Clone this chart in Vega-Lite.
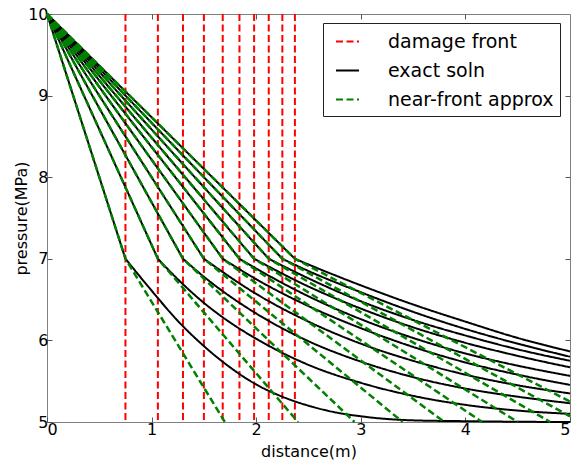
{
  "$schema": "https://vega.github.io/schema/vega-lite/v6.json",
  "width": 523,
  "height": 408,
  "autosize": {"type": "none"},
  "padding": {"left": 47, "top": 14, "right": 11, "bottom": 42},
  "background": "white",
  "config": {
    "font": "DejaVu Sans",
    "view": {"stroke": "#808080", "strokeWidth": 1},
    "axis": {"grid": false, "labelFontSize": 16, "titleFontSize": 16, "titleFontWeight": "normal", "labelColor": "black", "titleColor": "black", "domain": false, "tickColor": "#555", "tickSize": -5, "tickWidth": 1, "labelPadding": 4},
    "legend": {"orient": "none", "legendX": 276, "legendY": 9, "symbolType": "stroke", "symbolSize": 529, "symbolStrokeWidth": 2, "symbolOffset": 6, "labelFontSize": 19, "labelColor": "black", "labelOffset": 28, "padding": 6, "rowPadding": 6, "fillColor": "white", "strokeColor": "#222", "labelLimit": 300}
  },
  "datasets": {
    "fronts": [
      {"k": 1, "x": 0.75, "series": "damage front"},
      {"k": 2, "x": 1.06, "series": "damage front"},
      {"k": 3, "x": 1.30, "series": "damage front"},
      {"k": 4, "x": 1.50, "series": "damage front"},
      {"k": 5, "x": 1.68, "series": "damage front"},
      {"k": 6, "x": 1.84, "series": "damage front"},
      {"k": 7, "x": 1.98, "series": "damage front"},
      {"k": 8, "x": 2.12, "series": "damage front"},
      {"k": 9, "x": 2.25, "series": "damage front"},
      {"k": 10, "x": 2.37, "series": "damage front"}
    ],
    "exact": [
      {"k": 1, "seg": "a", "x": 0, "p": 10, "series": "exact soln"},
      {"k": 1, "seg": "a", "x": 0.75, "p": 7, "series": "exact soln"},
      {"k": 1, "seg": "b", "x": 0.75, "p": 7, "series": "exact soln"},
      {"k": 1, "seg": "b", "x": 1.0, "p": 6.61, "series": "exact soln"},
      {"k": 1, "seg": "b", "x": 1.25, "p": 6.24, "series": "exact soln"},
      {"k": 1, "seg": "b", "x": 1.5, "p": 5.93, "series": "exact soln"},
      {"k": 1, "seg": "b", "x": 1.75, "p": 5.67, "series": "exact soln"},
      {"k": 1, "seg": "b", "x": 2.0, "p": 5.46, "series": "exact soln"},
      {"k": 1, "seg": "b", "x": 2.25, "p": 5.31, "series": "exact soln"},
      {"k": 1, "seg": "b", "x": 2.5, "p": 5.2, "series": "exact soln"},
      {"k": 1, "seg": "b", "x": 2.75, "p": 5.12, "series": "exact soln"},
      {"k": 1, "seg": "b", "x": 3.0, "p": 5.07, "series": "exact soln"},
      {"k": 1, "seg": "b", "x": 3.5, "p": 5.02, "series": "exact soln"},
      {"k": 1, "seg": "b", "x": 4.0, "p": 5.01, "series": "exact soln"},
      {"k": 1, "seg": "b", "x": 4.5, "p": 5.003, "series": "exact soln"},
      {"k": 1, "seg": "b", "x": 5.0, "p": 5.0, "series": "exact soln"},
      {"k": 2, "seg": "a", "x": 0, "p": 10, "series": "exact soln"},
      {"k": 2, "seg": "a", "x": 1.06, "p": 7, "series": "exact soln"},
      {"k": 2, "seg": "b", "x": 1.06, "p": 7, "series": "exact soln"},
      {"k": 2, "seg": "b", "x": 1.25, "p": 6.75, "series": "exact soln"},
      {"k": 2, "seg": "b", "x": 1.5, "p": 6.46, "series": "exact soln"},
      {"k": 2, "seg": "b", "x": 1.75, "p": 6.22, "series": "exact soln"},
      {"k": 2, "seg": "b", "x": 2.0, "p": 6.02, "series": "exact soln"},
      {"k": 2, "seg": "b", "x": 2.5, "p": 5.7, "series": "exact soln"},
      {"k": 2, "seg": "b", "x": 3.0, "p": 5.48, "series": "exact soln"},
      {"k": 2, "seg": "b", "x": 3.5, "p": 5.32, "series": "exact soln"},
      {"k": 2, "seg": "b", "x": 4.0, "p": 5.21, "series": "exact soln"},
      {"k": 2, "seg": "b", "x": 4.5, "p": 5.14, "series": "exact soln"},
      {"k": 2, "seg": "b", "x": 5.0, "p": 5.1, "series": "exact soln"},
      {"k": 3, "seg": "a", "x": 0, "p": 10, "series": "exact soln"},
      {"k": 3, "seg": "a", "x": 1.3, "p": 7, "series": "exact soln"},
      {"k": 3, "seg": "b", "x": 1.3, "p": 7, "series": "exact soln"},
      {"k": 3, "seg": "b", "x": 1.5, "p": 6.78, "series": "exact soln"},
      {"k": 3, "seg": "b", "x": 2.0, "p": 6.33, "series": "exact soln"},
      {"k": 3, "seg": "b", "x": 2.5, "p": 5.99, "series": "exact soln"},
      {"k": 3, "seg": "b", "x": 3.0, "p": 5.74, "series": "exact soln"},
      {"k": 3, "seg": "b", "x": 3.5, "p": 5.55, "series": "exact soln"},
      {"k": 3, "seg": "b", "x": 4.0, "p": 5.41, "series": "exact soln"},
      {"k": 3, "seg": "b", "x": 4.5, "p": 5.31, "series": "exact soln"},
      {"k": 3, "seg": "b", "x": 5.0, "p": 5.23, "series": "exact soln"},
      {"k": 4, "seg": "a", "x": 0, "p": 10, "series": "exact soln"},
      {"k": 4, "seg": "a", "x": 1.5, "p": 7, "series": "exact soln"},
      {"k": 4, "seg": "b", "x": 1.5, "p": 7, "series": "exact soln"},
      {"k": 4, "seg": "b", "x": 2.0, "p": 6.57, "series": "exact soln"},
      {"k": 4, "seg": "b", "x": 2.5, "p": 6.23, "series": "exact soln"},
      {"k": 4, "seg": "b", "x": 3.0, "p": 5.96, "series": "exact soln"},
      {"k": 4, "seg": "b", "x": 3.5, "p": 5.75, "series": "exact soln"},
      {"k": 4, "seg": "b", "x": 4.0, "p": 5.58, "series": "exact soln"},
      {"k": 4, "seg": "b", "x": 4.5, "p": 5.45, "series": "exact soln"},
      {"k": 4, "seg": "b", "x": 5.0, "p": 5.35, "series": "exact soln"},
      {"k": 5, "seg": "a", "x": 0, "p": 10, "series": "exact soln"},
      {"k": 5, "seg": "a", "x": 1.68, "p": 7, "series": "exact soln"},
      {"k": 5, "seg": "b", "x": 1.68, "p": 7, "series": "exact soln"},
      {"k": 5, "seg": "b", "x": 2.0, "p": 6.75, "series": "exact soln"},
      {"k": 5, "seg": "b", "x": 2.5, "p": 6.42, "series": "exact soln"},
      {"k": 5, "seg": "b", "x": 3.0, "p": 6.15, "series": "exact soln"},
      {"k": 5, "seg": "b", "x": 3.5, "p": 5.92, "series": "exact soln"},
      {"k": 5, "seg": "b", "x": 4.0, "p": 5.73, "series": "exact soln"},
      {"k": 5, "seg": "b", "x": 4.5, "p": 5.58, "series": "exact soln"},
      {"k": 5, "seg": "b", "x": 5.0, "p": 5.455, "series": "exact soln"},
      {"k": 6, "seg": "a", "x": 0, "p": 10, "series": "exact soln"},
      {"k": 6, "seg": "a", "x": 1.84, "p": 7, "series": "exact soln"},
      {"k": 6, "seg": "b", "x": 1.84, "p": 7, "series": "exact soln"},
      {"k": 6, "seg": "b", "x": 2.0, "p": 6.88, "series": "exact soln"},
      {"k": 6, "seg": "b", "x": 2.5, "p": 6.54, "series": "exact soln"},
      {"k": 6, "seg": "b", "x": 3.0, "p": 6.26, "series": "exact soln"},
      {"k": 6, "seg": "b", "x": 3.5, "p": 6.03, "series": "exact soln"},
      {"k": 6, "seg": "b", "x": 4.0, "p": 5.84, "series": "exact soln"},
      {"k": 6, "seg": "b", "x": 4.5, "p": 5.69, "series": "exact soln"},
      {"k": 6, "seg": "b", "x": 5.0, "p": 5.565, "series": "exact soln"},
      {"k": 7, "seg": "a", "x": 0, "p": 10, "series": "exact soln"},
      {"k": 7, "seg": "a", "x": 1.98, "p": 7, "series": "exact soln"},
      {"k": 7, "seg": "b", "x": 1.98, "p": 7, "series": "exact soln"},
      {"k": 7, "seg": "b", "x": 2.5, "p": 6.66, "series": "exact soln"},
      {"k": 7, "seg": "b", "x": 3.0, "p": 6.39, "series": "exact soln"},
      {"k": 7, "seg": "b", "x": 3.5, "p": 6.16, "series": "exact soln"},
      {"k": 7, "seg": "b", "x": 4.0, "p": 5.97, "series": "exact soln"},
      {"k": 7, "seg": "b", "x": 4.5, "p": 5.81, "series": "exact soln"},
      {"k": 7, "seg": "b", "x": 5.0, "p": 5.67, "series": "exact soln"},
      {"k": 8, "seg": "a", "x": 0, "p": 10, "series": "exact soln"},
      {"k": 8, "seg": "a", "x": 2.12, "p": 7, "series": "exact soln"},
      {"k": 8, "seg": "b", "x": 2.12, "p": 7, "series": "exact soln"},
      {"k": 8, "seg": "b", "x": 2.5, "p": 6.76, "series": "exact soln"},
      {"k": 8, "seg": "b", "x": 3.0, "p": 6.48, "series": "exact soln"},
      {"k": 8, "seg": "b", "x": 3.5, "p": 6.25, "series": "exact soln"},
      {"k": 8, "seg": "b", "x": 4.0, "p": 6.06, "series": "exact soln"},
      {"k": 8, "seg": "b", "x": 4.5, "p": 5.89, "series": "exact soln"},
      {"k": 8, "seg": "b", "x": 5.0, "p": 5.75, "series": "exact soln"},
      {"k": 9, "seg": "a", "x": 0, "p": 10, "series": "exact soln"},
      {"k": 9, "seg": "a", "x": 2.25, "p": 7, "series": "exact soln"},
      {"k": 9, "seg": "b", "x": 2.25, "p": 7, "series": "exact soln"},
      {"k": 9, "seg": "b", "x": 2.5, "p": 6.85, "series": "exact soln"},
      {"k": 9, "seg": "b", "x": 3.0, "p": 6.59, "series": "exact soln"},
      {"k": 9, "seg": "b", "x": 3.5, "p": 6.35, "series": "exact soln"},
      {"k": 9, "seg": "b", "x": 4.0, "p": 6.14, "series": "exact soln"},
      {"k": 9, "seg": "b", "x": 4.5, "p": 5.96, "series": "exact soln"},
      {"k": 9, "seg": "b", "x": 5.0, "p": 5.8, "series": "exact soln"},
      {"k": 10, "seg": "a", "x": 0, "p": 10, "series": "exact soln"},
      {"k": 10, "seg": "a", "x": 2.37, "p": 7, "series": "exact soln"},
      {"k": 10, "seg": "b", "x": 2.37, "p": 7, "series": "exact soln"},
      {"k": 10, "seg": "b", "x": 2.5, "p": 6.93, "series": "exact soln"},
      {"k": 10, "seg": "b", "x": 3.0, "p": 6.675, "series": "exact soln"},
      {"k": 10, "seg": "b", "x": 3.5, "p": 6.44, "series": "exact soln"},
      {"k": 10, "seg": "b", "x": 4.0, "p": 6.23, "series": "exact soln"},
      {"k": 10, "seg": "b", "x": 4.5, "p": 6.03, "series": "exact soln"},
      {"k": 10, "seg": "b", "x": 5.0, "p": 5.865, "series": "exact soln"}
    ],
    "approx": [
      {"k": 1, "x": 0, "p": 10, "series": "near-front approx"},
      {"k": 1, "x": 0.75, "p": 7, "series": "near-front approx"},
      {"k": 1, "x": 1.7, "p": 5, "series": "near-front approx"},
      {"k": 2, "x": 0, "p": 10, "series": "near-front approx"},
      {"k": 2, "x": 1.06, "p": 7, "series": "near-front approx"},
      {"k": 2, "x": 2.4, "p": 5, "series": "near-front approx"},
      {"k": 3, "x": 0, "p": 10, "series": "near-front approx"},
      {"k": 3, "x": 1.3, "p": 7, "series": "near-front approx"},
      {"k": 3, "x": 2.94, "p": 5, "series": "near-front approx"},
      {"k": 4, "x": 0, "p": 10, "series": "near-front approx"},
      {"k": 4, "x": 1.5, "p": 7, "series": "near-front approx"},
      {"k": 4, "x": 3.4, "p": 5, "series": "near-front approx"},
      {"k": 5, "x": 0, "p": 10, "series": "near-front approx"},
      {"k": 5, "x": 1.68, "p": 7, "series": "near-front approx"},
      {"k": 5, "x": 3.8, "p": 5, "series": "near-front approx"},
      {"k": 6, "x": 0, "p": 10, "series": "near-front approx"},
      {"k": 6, "x": 1.84, "p": 7, "series": "near-front approx"},
      {"k": 6, "x": 4.16, "p": 5, "series": "near-front approx"},
      {"k": 7, "x": 0, "p": 10, "series": "near-front approx"},
      {"k": 7, "x": 1.98, "p": 7, "series": "near-front approx"},
      {"k": 7, "x": 4.5, "p": 5, "series": "near-front approx"},
      {"k": 8, "x": 0, "p": 10, "series": "near-front approx"},
      {"k": 8, "x": 2.12, "p": 7, "series": "near-front approx"},
      {"k": 8, "x": 4.81, "p": 5, "series": "near-front approx"},
      {"k": 9, "x": 0, "p": 10, "series": "near-front approx"},
      {"k": 9, "x": 2.25, "p": 7, "series": "near-front approx"},
      {"k": 9, "x": 5.0, "p": 5.07, "series": "near-front approx"},
      {"k": 10, "x": 0, "p": 10, "series": "near-front approx"},
      {"k": 10, "x": 2.37, "p": 7, "series": "near-front approx"},
      {"k": 10, "x": 5.0, "p": 5.25, "series": "near-front approx"}
    ]
  },
  "resolve": {"axis": {"x": "independent", "y": "independent"}},
  "layer": [
    {
      "data": {"name": "fronts"},
      "mark": {"type": "rule", "strokeWidth": 2},
      "encoding": {
        "x": {"field": "x", "type": "quantitative", "scale": {"domain": [0, 5], "nice": false}, "axis": null},
        "color": {"field": "series", "type": "nominal", "scale": {"domain": ["damage front", "exact soln", "near-front approx"], "range": ["#ff0000", "#000000", "#008000"]}, "legend": {"title": null}},
        "strokeDash": {"field": "series", "type": "nominal", "scale": {"domain": ["damage front", "exact soln", "near-front approx"], "range": [[7, 3.5], [1, 0], [7, 3.5]]}, "legend": {"title": null}}
      }
    },
    {
      "data": {"name": "exact"},
      "mark": {"type": "line", "strokeWidth": 2, "interpolate": "monotone"},
      "encoding": {
        "x": {"field": "x", "type": "quantitative", "scale": {"domain": [0, 5], "nice": false}, "axis": {"values": [0, 1, 2, 3, 4, 5], "title": "distance(m)", "titlePadding": 6}},
        "y": {"field": "p", "type": "quantitative", "scale": {"domain": [5, 10], "nice": false, "zero": false}, "axis": {"values": [5, 6, 7, 8, 9, 10], "title": "pressure(MPa)", "titlePadding": -2}},
        "detail": [{"field": "k", "type": "nominal"}, {"field": "seg", "type": "nominal"}],
        "color": {"field": "series", "type": "nominal", "scale": {"domain": ["damage front", "exact soln", "near-front approx"], "range": ["#ff0000", "#000000", "#008000"]}, "legend": {"title": null}},
        "strokeDash": {"field": "series", "type": "nominal", "scale": {"domain": ["damage front", "exact soln", "near-front approx"], "range": [[7, 3.5], [1, 0], [7, 3.5]]}, "legend": {"title": null}}
      }
    },
    {
      "data": {"name": "approx"},
      "mark": {"type": "line", "strokeWidth": 2.5},
      "encoding": {
        "x": {"field": "x", "type": "quantitative", "scale": {"domain": [0, 5], "nice": false}, "axis": {"orient": "top", "values": [1, 2, 3, 4], "labels": false, "title": null}},
        "y": {"field": "p", "type": "quantitative", "scale": {"domain": [5, 10], "nice": false, "zero": false}, "axis": {"orient": "right", "values": [6, 7, 8, 9], "labels": false, "title": null}},
        "detail": {"field": "k", "type": "nominal"},
        "color": {"field": "series", "type": "nominal", "scale": {"domain": ["damage front", "exact soln", "near-front approx"], "range": ["#ff0000", "#000000", "#008000"]}, "legend": {"title": null}},
        "strokeDash": {"field": "series", "type": "nominal", "scale": {"domain": ["damage front", "exact soln", "near-front approx"], "range": [[7, 3.5], [1, 0], [7, 3.5]]}, "legend": {"title": null}}
      }
    }
  ]
}
